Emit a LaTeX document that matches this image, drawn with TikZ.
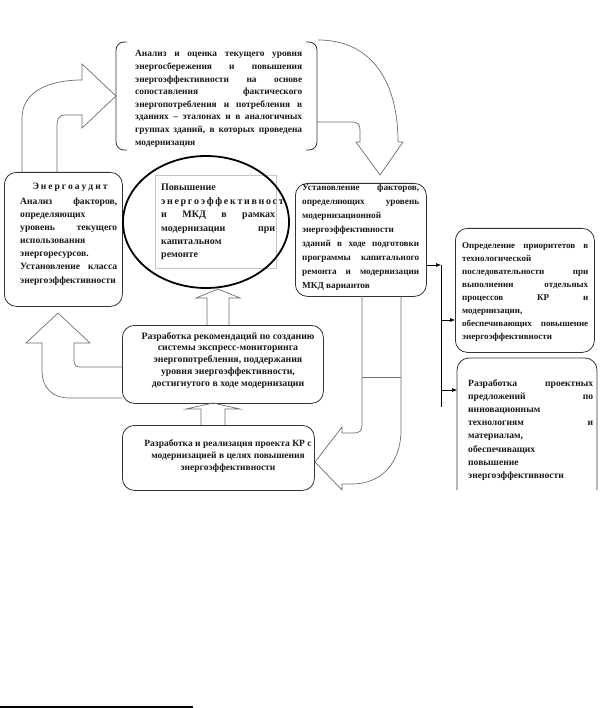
\documentclass[tikz,border=0pt]{standalone}
\usepackage{fontspec}
\setmainfont{Liberation Serif}
\usetikzlibrary{arrows.meta,shapes.geometric}
\definecolor{boxc}{HTML}{333333}
\definecolor{arrc}{HTML}{6E6E6E}
\definecolor{txtc}{HTML}{1A1A1A}
\newcommand\jl[1]{\makebox[\linewidth][s]{#1}}
\begin{document}
\begin{tikzpicture}[x=1pt,y=-1pt,
  box/.style={draw=boxc, line width=0.8pt, rounded corners=12pt, inner sep=0pt},
  blk/.style={draw=arrc, line width=0.7pt, line join=miter},
  conn/.style={draw=black, line width=0.6pt},
  tip/.style={-{Latex[length=5pt,width=4pt]}},
  tx/.style={anchor=base west, inner sep=0pt, text=txtc},
  ph/.style={inner sep=0pt, anchor=north west}]
\useasboundingbox[fill=white] (0,0) rectangle (604,708);

% top box (only sides drawn)
\node[ph, minimum width=201pt, minimum height=108pt] (b1) at (116,42) {};
\draw[draw=boxc, line width=0.8pt, rounded corners=8pt] (127,42) -- (116,42) -- (116,150) -- (127,150);
\draw[draw=boxc, line width=0.8pt, rounded corners=8pt] (306,42) -- (317,42) -- (317,150) -- (306,150);
\node[tx] (t1) at (135,57) {\parbox[t]{167pt}{\fontsize{9.4}{12.6}\selectfont\bfseries
\jl{Анализ и оценка текущего уровня}\\
\jl{энергосбережения и повышения}\\
\jl{энергоэффективности на основе}\\
\jl{сопоставления фактического}\\
\jl{энергопотребления и потребления в}\\
\jl{зданиях – эталонах и в аналогичных}\\
\jl{группах зданий, в которых проведена}\\
модернизация}};

% energy audit box
\node[box, ph, minimum width=118pt, minimum height=134pt] (b2) at (4,172) {};
\node[tx, anchor=base] (t2a) at (70,190) {\fontsize{9.6}{13}\selectfont\bfseries\makebox[75pt][s]{Э н е р г о а у д и т}};
\node[tx] (t2) at (20,205) {\parbox[t]{97pt}{\fontsize{9.6}{13}\selectfont\bfseries
\jl{Анализ факторов,}\\
определяющих\\
\jl{уровень текущего}\\
использования\\
энергоресурсов.\\
\jl{Установление класса}\\
энергоэффективности}};

% ellipse with inner text box
\node[ph, draw=gray!45, line width=0.4pt, minimum width=121pt, minimum height=93pt] (er) at (155,175) {};
\node[draw=black, ellipse, line width=1.8pt, minimum width=166pt, minimum height=132pt, inner sep=0pt] (el) at (206,222) {};
\node[tx] (t3) at (161,191) {\parbox[t]{114pt}{\fontsize{10}{13.4}\selectfont\bfseries
Повышение\\
\jl{э н е р г о э ф ф е к т и в н о с т}\\
\jl{и МКД в рамках}\\
\jl{модернизации при}\\
капитальном\\
ремонте}};

% box 4
\node[box, ph, minimum width=131pt, minimum height=113pt] (b4) at (295,183) {};
\node[tx] (t4) at (302,191) {\parbox[t]{117pt}{\fontsize{9.2}{13.9}\selectfont\bfseries
\jl{Установление факторов,}\\
\jl{определяющих уровень}\\
модернизационной\\
энергоэффективности\\
\jl{зданий в ходе подготовки}\\
\jl{программы капитального}\\
\jl{ремонта и модернизации}\\
МКД вариантов}};

% box 5
\node[box, ph, minimum width=139pt, minimum height=124pt] (b5) at (455,228) {};
\node[tx] (t5) at (462,248) {\parbox[t]{126pt}{\fontsize{9}{13.1}\selectfont\bfseries
\jl{Определение приоритетов в}\\
технологической\\
\jl{последовательности при}\\
\jl{выполнении отдельных}\\
\jl{процессов КР и}\\
модернизации,\\
\jl{обеспечивающих повышение}\\
энергоэффективности}};

% box 6 (bottom cut off)
\node[ph, minimum width=140pt, minimum height=132pt] (b6) at (457,358) {};
\draw[draw=boxc, line width=0.8pt, rounded corners=12pt] (457,490) -- (457,358) -- (597,358) -- (597,490);
\node[tx] (t6) at (468,386) {\parbox[t]{125pt}{\fontsize{9.6}{13.2}\selectfont\bfseries
\jl{Разработка проектных}\\
\jl{предложений по}\\
инновационным\\
\jl{технологиям и}\\
материалам,\\
обеспечиващих\\
повышение\\
энергоэффективности}};

% box 7
\node[box, ph, minimum width=201pt, minimum height=78pt] (b7) at (122,325) {};
\node[tx, anchor=base] (t7) at (228,339) {\parbox[t]{198pt}{\centering\fontsize{9.8}{11.8}\selectfont\bfseries
Разработка рекомендаций по созданию\\
системы экспресс-мониторинга\\
энергопотребления, поддержания\\
уровня энергоэффективности,\\
достигнутого в ходе модернизации}};

% box 8
\node[box, ph, minimum width=192pt, minimum height=65pt] (b8) at (122,425) {};
\node[tx, anchor=base] (t8) at (228,446) {\parbox[t]{188pt}{\centering\fontsize{9.5}{12}\selectfont\bfseries
Разработка и реализация проекта КР с\\
модернизацией в целях повышения\\
энергоэффективности}};

% block arrows
\draw[blk] (22,172) -- (22,118) .. controls (22,92) and (48,80) .. (82,80) -- (82,64) -- (116,96) -- (82,128) -- (82,115) -- (65,115) .. controls (59,115) and (57,119) .. (57,125) -- (57,172);
\draw[blk] (318,40) .. controls (372,40) and (398,82) .. (398,142) -- (403,142) -- (380,175) -- (356,142) -- (360,142) -- (360,130) .. controls (360,124) and (357,122) .. (352,122) -- (317,122);
\draw[blk] (362,296) -- (362,425) .. controls (362,431) and (359,433) .. (354,433) -- (342,433) -- (342,427) -- (315,462) -- (342,490) -- (342,484) -- (352,484) .. controls (382,484) and (401,462) .. (401,430) -- (401,296);
\draw[blk] (362,377) -- (401,377);
\draw[blk] (122,398) -- (70,398) .. controls (52,398) and (42,388) .. (42,370) -- (42,343) -- (26,343) -- (58,313) -- (90,343) -- (74,343) -- (74,360) .. controls (74,365) and (76,367) .. (80,367) -- (122,367);
\draw[blk] (201,425) -- (201,409) -- (186,409) -- (213,403) -- (240,409) -- (225,409) -- (225,425);
\draw[blk] (207,325) -- (207,298) -- (196,298) -- (218,289) -- (240,298) -- (229,298) -- (229,325);

% connectors
\coordinate (j1) at (441,265);
\coordinate (j2) at (441,320);
\coordinate (j3) at (441,390);
\coordinate (jend) at (441,407);
\draw[conn, tip] (b4.east |- j1) -- (j1);
\draw[conn] (j1) -- (jend);
\draw[conn, tip] (j2) -- (b5.west |- j2);
\draw[conn, tip] (j3) -- (b6.west |- j3);

% footnote rule
\draw[line width=1.3pt] (0,707) -- (193,707);
\end{tikzpicture}
\end{document}
